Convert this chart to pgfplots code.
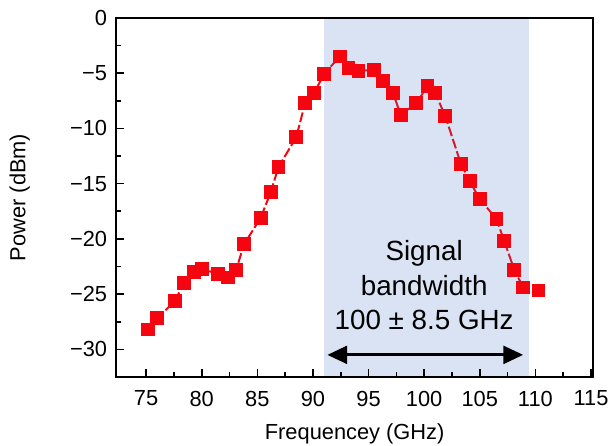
\documentclass[border=0pt]{standalone}
\usepackage{pgfplots}
\pgfplotsset{compat=1.18}
\usepackage{fontspec}
\setmainfont{Liberation Sans}
\usetikzlibrary{arrows.meta}
\definecolor{markred}{RGB}{245,5,15}
\definecolor{shadeblue}{RGB}{68,114,196}

\begin{document}
\begin{tikzpicture}
\begin{axis}[
    scale only axis,
    width=240.5pt, height=181pt,
    xmin=72.3, xmax=115.2,
    ymin=-32.5, ymax=0,
    xtick={75,80,...,115},
    ytick={-30,-25,...,0},
    yticklabels={−30,−25,−20,−15,−10,−5,0},
    minor x tick num=1,
    minor y tick num=1,
    tick pos=left,
    tick align=inside,
    major tick length=4pt,
    minor tick length=2.5pt,
    axis line style={line width=1pt},
    tick style={line width=0.8pt, black},
    axis on top,
    font=\fontsize{11}{13}\selectfont,
    /pgf/number format/assume math mode=true,
    xticklabel style={yshift=-3.5pt},
    yticklabel style={xshift=-1pt},
    xlabel={Frequencey (GHz)},
    ylabel={Power (dBm)},
    xlabel style={at={(axis description cs:0.5,-0.1575)}, anchor=center, inner sep=1pt},
    ylabel style={at={(axis description cs:-0.2017,0.5)}, anchor=center, inner sep=1pt},
]
% measured spectrum
\addplot[color=markred, dash pattern=on 5pt off 1.5pt, line width=1pt, mark=square*,
         mark size=3pt, mark options={solid}] coordinates {
    (75.2,-28.2) (76.0,-27.2) (77.6,-25.6) (78.4,-24.0) (79.3,-23.0)
    (80.0,-22.7) (81.5,-23.2) (82.4,-23.5) (83.1,-22.8) (83.8,-20.5)
    (85.3,-18.1) (86.2,-15.8) (86.9,-13.5) (88.5,-10.8) (89.3,-7.7)
    (90.1,-6.8) (91.0,-5.1) (92.4,-3.5) (93.2,-4.5) (94.1,-4.8)
    (95.5,-4.7) (96.3,-5.7) (97.2,-6.8) (97.9,-8.8) (99.3,-7.7)
    (100.3,-6.2) (101.0,-6.8) (101.9,-8.9) (103.3,-13.2) (104.1,-14.8)
    (105.0,-16.4) (106.5,-18.2) (107.2,-20.2) (108.1,-22.8) (108.9,-24.4)
};
\addplot[only marks, color=markred, mark=square*, mark size=3pt]
    coordinates {(110.3,-24.7)};
% signal band
\fill[shadeblue, opacity=0.2] (axis cs:90.96,-32.5) rectangle (axis cs:109.4,0);
\draw[line width=1.5pt, {Triangle[length=10pt,width=9pt]}-{Triangle[length=10pt,width=9pt]}]
    (axis cs:91.3,-30.5) -- (axis cs:108.9,-30.5);
\node[align=center, font=\fontsize{14}{17.25}\selectfont] at (axis cs:100,-24.2)
    {Signal\\bandwidth\\100 ± 8.5 GHz};
\end{axis}
% white margins left of the y label and above the axis, as in the original
\path ([xshift=-58.5pt]current axis.south west);
\path ([yshift=9pt]current axis.north west);
\end{tikzpicture}
\end{document}
